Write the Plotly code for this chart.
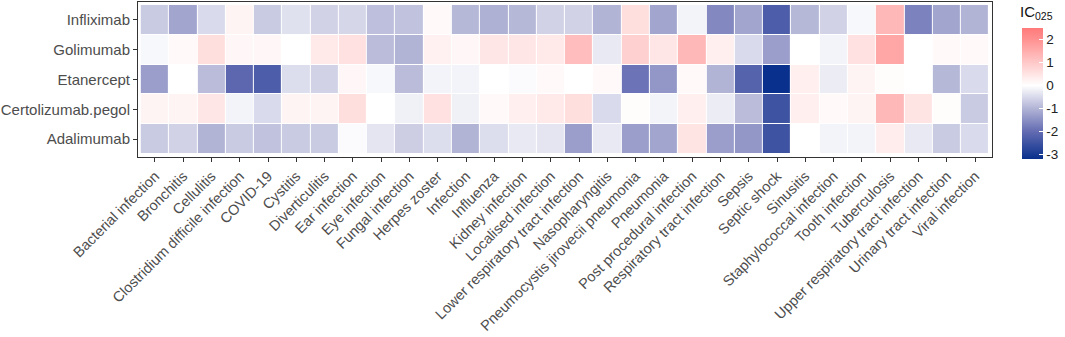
import plotly.graph_objects as go

infections = ["Bacterial infection", "Bronchitis", "Cellulitis", "Clostridium difficile infection",
              "COVID-19", "Cystitis", "Diverticulitis", "Ear infection", "Eye infection",
              "Fungal infection", "Herpes zoster", "Infection", "Influenza", "Kidney infection",
              "Localised infection", "Lower respiratory tract infection", "Nasopharyngitis",
              "Pneumocystis jirovecii pneumonia", "Pneumonia", "Post procedural infection",
              "Respiratory tract infection", "Sepsis", "Septic shock", "Sinusitis",
              "Staphylococcal infection", "Tooth infection", "Tuberculosis",
              "Upper respiratory tract infection", "Urinary tract infection", "Viral infection"]

drugs = ["Adalimumab", "Certolizumab.pegol", "Etanercept", "Golimumab", "Infliximab"]

infliximab = [-0.7, -1.2, -0.5, 0.2, -0.7, -0.4, -0.6, -0.55, -0.85, -0.8, 0.1, -0.95, -1.05, -0.95, -0.6,
              -0.6, -1.0, 0.6, -1.2, -0.15, -1.6, -1.2, -2.3, -0.95, -0.6, -0.1, 1.3, -1.7, -1.2, -1.0]
golimumab = [-0.1, 0.1, 0.6, 0.15, 0.15, 0.0, 0.4, 0.55, -0.9, -1.0, 0.25, 0.15, 0.45, 0.45, 0.4,
             1.2, -0.3, 0.85, 0.45, 1.3, 0.3, -0.5, -1.3, 0.0, -0.15, 0.55, 1.6, 0.0, 0.1, 0.1]
etanercept = [-1.3, 0.0, -0.9, -2.1, -2.3, -0.45, -0.6, 0.15, -0.1, -0.9, -0.15, -0.15, 0.0, -0.05, 0.1,
              0.0, 0.1, -1.9, -1.4, 0.1, -1.0, -2.2, -3.2, 0.3, -0.25, 0.2, 0.05, 0.0, -0.95, -0.5]
certolizumab = [0.2, 0.2, 0.45, -0.15, -0.5, 0.2, 0.2, 0.6, 0.0, -0.2, 0.55, -0.2, 0.1, 0.3, 0.4,
                0.6, -0.5, 0.05, -0.15, 0.3, -0.25, -0.9, -2.5, 0.3, 0.1, 0.2, 1.3, 0.5, 0.05, -0.7]
adalimumab = [-0.7, -0.6, -1.0, -0.7, -0.8, -0.7, -0.7, -0.05, -0.35, -0.65, -0.45, -1.0, -0.45, -0.3, -0.35,
              -1.3, -0.3, -1.3, -1.2, 0.5, -1.3, -1.4, -2.5, 0.0, -0.15, -0.15, 0.35, -0.3, -0.7, -0.5]

cb_ticks = [2, 1, 0, -1, -2, -3]

zmin, zmax = -3.2, 2.5
def pos(v):
    return (v - zmin) / (zmax - zmin)

colorscale = [
    [pos(-3.2), "rgb(8,48,140)"],
    [pos(-2.0), "rgb(100,108,178)"],
    [pos(-1.0), "rgb(178,180,214)"],
    [pos(0.0), "rgb(255,255,255)"],
    [pos(1.0), "rgb(255,200,200)"],
    [pos(2.0), "rgb(255,145,145)"],
    [pos(2.5), "rgb(255,122,122)"],
]

z = [adalimumab, certolizumab, etanercept, golimumab, infliximab]

L, R, T, B = 138, 992, 2, 157
PW, PH = R - L, B - T

fig = go.Figure(go.Heatmap(
    z=z, x=infections, y=drugs, zmin=zmin, zmax=zmax, colorscale=colorscale,
    xgap=1, ygap=1,
    colorbar=dict(
        thickness=21, len=131 / PH, lenmode="fraction", y=(B - 93.5) / PH, yanchor="middle",
        x=(1022 - L) / PW, xanchor="left", xpad=0, ypad=0,
        outlinewidth=0, tickvals=cb_ticks, ticktext=[str(t) for t in cb_ticks],
        ticks="inside", ticklen=4, tickcolor="white", tickwidth=1,
        tickfont=dict(family="Liberation Sans, Arial", size=13.5, color="#222222"),
    ),
))

fig.add_annotation(text="IC<sub>025</sub>", xref="paper", yref="paper",
                   x=(1018 - L) / PW, y=(B - 13) / PH,
                   showarrow=False, xanchor="left", yanchor="middle",
                   font=dict(family="Liberation Sans, Arial", size=15, color="#111111"))

fig.update_xaxes(range=[-0.6, 29.6], tickangle=-45, ticks="outside", ticklen=4, tickcolor="#333333",
                 showline=True, linecolor="#333333", linewidth=1, mirror=True, showgrid=False,
                 tickfont=dict(family="Liberation Sans, Arial", size=14.5, color="#4D4D4D"),
                 zeroline=False, automargin=False)
fig.update_yaxes(range=[-0.6, 4.6], ticks="outside", ticklen=4, tickcolor="#333333",
                 showline=True, linecolor="#333333", linewidth=1, mirror=True, showgrid=False,
                 tickfont=dict(family="Liberation Sans, Arial", size=15, color="#4D4D4D"),
                 zeroline=False, automargin=False)

fig.update_layout(width=1065, height=337, margin=dict(l=L, r=1065 - R, t=T, b=337 - B, autoexpand=False),
                  plot_bgcolor="white", paper_bgcolor="white")

fig.write_html("out.html", config={"displayModeBar": False},
               post_script="document.body.style.margin='0';document.body.style.overflow='hidden';")
